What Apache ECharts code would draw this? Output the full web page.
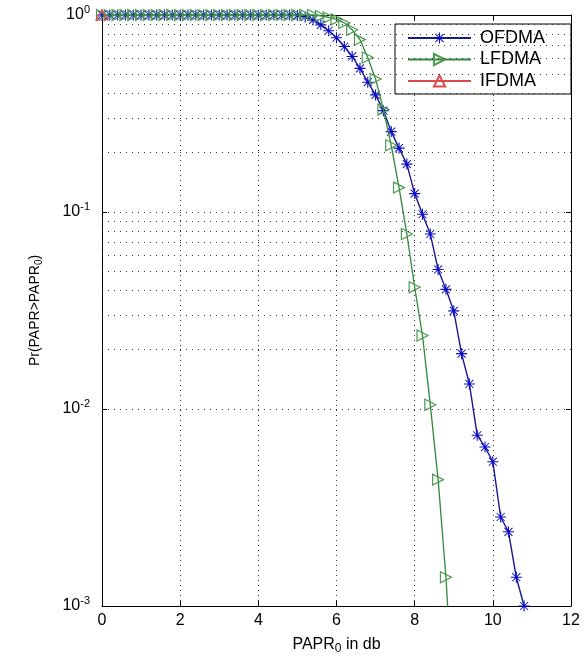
<!DOCTYPE html>
<html><head><meta charset="utf-8">
<script src="https://cdn.jsdelivr.net/npm/echarts@6/dist/echarts.min.js"></script>
<style>html,body{margin:0;padding:0;background:#fff}#c{width:588px;height:660px}</style>
</head><body><div id="c"></div>
<script>
// PAPR0 grid (dB)
const papr = [0,0.2,0.4,0.6,0.8,1.0,1.2,1.4,1.6,1.8,2.0,2.2,2.4,2.6,2.8,3.0,3.2,3.4,3.6,3.8,
  4.0,4.2,4.4,4.6,4.8,5.0,5.2,5.4,5.6,5.8,6.0,6.2,6.4,6.6,6.8,7.0,7.2,7.4,7.6,7.8,
  8.0,8.2,8.4,8.6,8.8,9.0,9.2,9.4,9.6,9.8,10.0,10.2,10.4,10.6,10.8];
// Pr(PAPR > PAPR0)
const ofdma = [1,1,1,1,1,1,1,1,1,1,1,1,1,1,1,1,1,1,1,1,1,1,1,1,1,
  0.995,0.977,0.944,0.891,0.832,0.767,0.692,0.616,0.536,0.456,
  0.393,0.327,0.256,0.211,0.175,0.124,0.0974,0.0773,0.0511,0.0405,
  0.0315,0.0191,0.0134,0.00736,0.00641,0.0054,0.00283,0.00238,0.0014,0.001];
const lfdma = [1,1,1,1,1,1,1,1,1,1,1,1,1,1,1,1,1,1,1,1,1,1,1,1,1,1,1,1,
  0.989,0.972,0.95,0.912,0.841,0.75,0.609,0.473,0.331,0.218,0.133,0.0773,
  0.0415,0.0236,0.0105,0.00438,0.0014,0.0003];
const ifdma = [1];
const seriesNames = ['OFDMA','LFDMA','IFDMA'];
const seriesColors = ['#18188f','#2f8a3a','#e0474a'];
const xTicks = {min:0, max:12, step:2};
const yRange = {min:0.001, max:1};
const yMinorGrid = [0.002,0.003,0.004,0.005,0.006,0.007,0.008,0.009,
  0.02,0.03,0.04,0.05,0.06,0.07,0.08,0.09,
  0.2,0.3,0.4,0.5,0.6,0.7,0.8,0.9];

function pairs(vals){ return vals.map(function(v,i){ return [papr[i], v]; }); }
const FONT = 'Liberation Sans';
const starPath = 'path://M9,0L11,0L11,20L9,20Z M0,9L20,9L20,11L0,11Z M3.3,2.1L17.9,16.7L16.7,17.9L2.1,3.3Z M16.7,2.1L17.9,3.3L3.3,17.9L2.1,16.7Z';
const rightTri = 'path://M0,0L20,10L0,20Z';

const chart = echarts.init(document.getElementById('c'), null, {renderer:'canvas'});
const axisLineStyle = {show:true, onZero:false, lineStyle:{color:'#000', width:1}};
const tickStyle = {show:true, inside:true, length:5, lineStyle:{color:'#000'}};

chart.setOption({
  animation:false,
  backgroundColor:'#fff',
  grid:{left:102, right:17, top:15, bottom:46, containLabel:false},
  legend:{
    data:seriesNames, orient:'vertical', right:17, top:24,
    backgroundColor:'#fff', borderColor:'#000', borderWidth:1,
    padding:[5,26,4,12], itemWidth:63, itemHeight:14, itemGap:3.5,
    textStyle:{fontFamily:FONT, fontSize:18, color:'#000', padding:[0,0,0,4]}
  },
  xAxis:[{
    type:'value', min:xTicks.min, max:xTicks.max, interval:xTicks.step, position:'bottom',
    axisLine:axisLineStyle, axisTick:tickStyle,
    axisLabel:{fontFamily:FONT, fontSize:16, color:'#000', margin:7},
    splitLine:{show:true, lineStyle:{color:'#333', width:1, type:[1,4]}},
    name:'{a|PAPR}{sub|0}{a| in db}', nameLocation:'middle', nameGap:28,
    nameTextStyle:{rich:{
      a:{fontFamily:FONT, fontSize:16, color:'#000'},
      sub:{fontFamily:FONT, fontSize:12, color:'#000', padding:[9,0,0,0]}
    }}
  },{
    type:'value', min:xTicks.min, max:xTicks.max, interval:xTicks.step, position:'top',
    axisLine:axisLineStyle, axisTick:tickStyle, axisLabel:{show:false}, splitLine:{show:false}
  }],
  yAxis:[{
    type:'log', logBase:10, min:yRange.min, max:yRange.max, position:'left',
    axisLine:axisLineStyle, axisTick:tickStyle,
    axisLabel:{margin:12, formatter:function(v){
        return '{b|10}{s|' + Math.round(Math.log10(v)) + '}';
      },
      rich:{
        b:{fontFamily:FONT, fontSize:16, color:'#000'},
        s:{fontFamily:FONT, fontSize:11, color:'#000', padding:[0,0,10,0]}
      }},
    splitLine:{show:true, lineStyle:{color:'#333', width:1, type:[1,5]}},
    name:'Pr(PAPR>PAPR{sub|0})', nameLocation:'middle', nameGap:58, nameRotate:90,
    nameTextStyle:{fontFamily:FONT, fontSize:14, color:'#000', rich:{
      sub:{fontFamily:FONT, fontSize:10, color:'#000', padding:[8,0,0,0]}
    }}
  },{
    type:'log', logBase:10, min:yRange.min, max:yRange.max, position:'right',
    axisLine:axisLineStyle, axisTick:tickStyle, axisLabel:{show:false}, splitLine:{show:false}
  }],
  series:[{
    type:'line', data:[], z:1, silent:true,
    markLine:{silent:true, symbol:'none', label:{show:false}, animation:false,
      lineStyle:{color:'#333', width:1, type:[1,5]},
      data:yMinorGrid.map(function(v){ return {yAxis:v}; })}
  },{
    name:seriesNames[0], type:'line', z:3, data:pairs(ofdma),
    symbol:starPath, symbolSize:11, showAllSymbol:true,
    lineStyle:{color:seriesColors[0], width:1.4},
    itemStyle:{color:'#0a0ac8', borderWidth:0}
  },{
    name:seriesNames[1], type:'line', z:4, data:pairs(lfdma),
    symbol:rightTri, symbolSize:[11,11], showAllSymbol:true,
    lineStyle:{color:seriesColors[1], width:1.3},
    itemStyle:{color:'rgba(255,255,255,0)', borderColor:'#4c9a50', borderWidth:1.2}
  },{
    name:seriesNames[2], type:'line', z:5, data:pairs(ifdma),
    symbol:'triangle', symbolSize:[12,10], showAllSymbol:true,
    lineStyle:{color:seriesColors[2], width:1.3},
    itemStyle:{color:'rgba(255,255,255,0)', borderColor:seriesColors[2], borderWidth:1.2}
  }]
});
</script></body></html>
